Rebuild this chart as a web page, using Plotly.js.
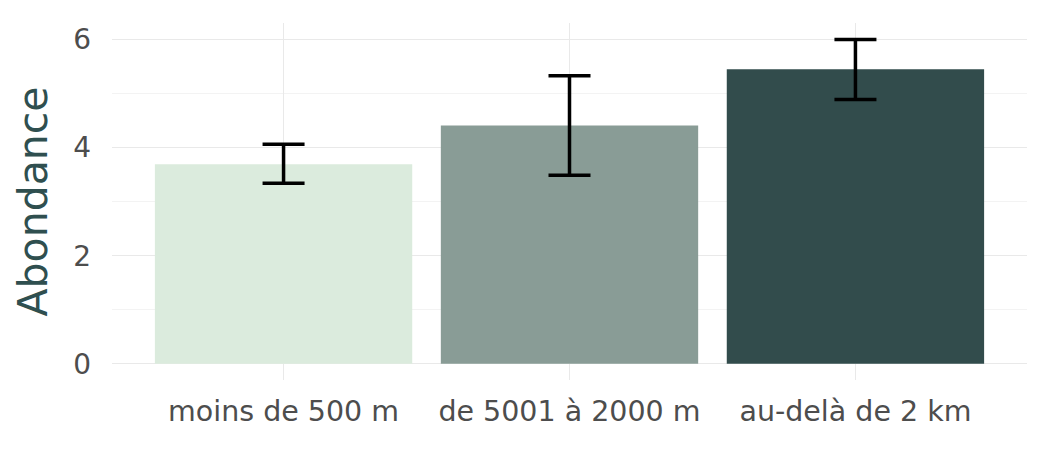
<!DOCTYPE html>
<html>
<head>
<meta charset="utf-8">
<script src="https://cdn.plot.ly/plotly-3.0.1.min.js"></script>
<style>html,body{margin:0;padding:0;background:#fff;}#chart{width:1050px;height:450px;}</style>
</head>
<body>
<div id="chart"></div>
<script>
const categories = ["moins de 500 m", "de 5001 à 2000 m", "au-delà de 2 km"];
const abondance = [3.69, 4.41, 5.45];
const upperBound = [4.06, 5.33, 6.00];
const lowerBound = [3.34, 3.49, 4.89];
const barColors = ["#dbebdd", "#899c96", "#324c4c"];
const yTicks = [0, 2, 4, 6];

const errPlus = abondance.map((v, i) => upperBound[i] - v);
const errMinus = abondance.map((v, i) => v - lowerBound[i]);

const trace = {
  type: "bar",
  x: categories,
  y: abondance,
  marker: {color: barColors, line: {width: 0}},
  error_y: {
    type: "data",
    symmetric: false,
    array: errPlus,
    arrayminus: errMinus,
    color: "#000000",
    thickness: 3.5,
    width: 21
  },
  hoverinfo: "skip"
};

const layout = {
  width: 1050,
  height: 450,
  margin: {l: 112, r: 23, t: 23, b: 70},
  paper_bgcolor: "#ffffff",
  plot_bgcolor: "#ffffff",
  bargap: 0.1,
  showlegend: false,
  font: {family: "DejaVu Sans", color: "#4d4d4d"},
  xaxis: {
    type: "category",
    range: [-0.6, 2.6],
    showgrid: true,
    gridcolor: "#e9e9e9",
    gridwidth: 1.3,
    zeroline: false,
    showline: false,
    ticks: "",
    tickfont: {size: 28.5, color: "#4d4d4d", family: "DejaVu Sans"},
    ticklabelstandoff: 11
  },
  yaxis: {
    range: [-0.3, 6.305],
    tickvals: yTicks,
    ticktext: yTicks.map(String),
    showgrid: true,
    gridcolor: "#e9e9e9",
    gridwidth: 1.3,
    zeroline: false,
    showline: false,
    ticks: "",
    tickfont: {size: 28, color: "#4d4d4d", family: "DejaVu Sans"},
    ticklabelstandoff: 20,
    minor: {dtick: 1, tick0: 0, showgrid: true, gridcolor: "#f2f2f2", gridwidth: 0.9, ticks: ""},
    title: {text: "Abondance", font: {size: 41, color: "#2f4f4f", family: "DejaVu Sans"}, standoff: 12}
  }
};

Plotly.newPlot("chart", [trace], layout, {displayModeBar: false, staticPlot: true});
</script>
</body>
</html>
